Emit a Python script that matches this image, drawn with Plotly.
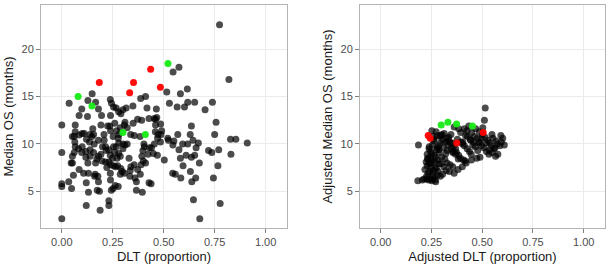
import plotly.graph_objects as go

# ---------------- Left panel data ----------------
dlt_black = [0.774,0.82,0.575,0.546,0.515,0.528,0.582,0.616,0.618,0.652,0.566,0.602,0.703,0.739,0.757,0.636,0.569,0.63,0.644,0.618,
             0.593,0.575,0.67,0.659,0.72,0.736,0.75,0.77,0.828,0.854,0.91,0.83,0.582,0.595,0.636,0.652,0.675,0.766,0.744,0.584,
             0.544,0.557,0.638,0.657,0.646,0.677,0.777,0.631,
             0.411,0.387,0.418,0.464,0.454,0.46,0.466,0.428,0.485,0.392,0.459,0.472,0.487,0.484,0.523,0.454,0.503,0.449,0.469,0.423,
             0.403,0.384,0.405,0.393,0.389,0.411,0.385,0.372,0.339,0.428,0.438,0.395,0.366,0.366,0.359,0.336,0.334,0.349,0.316,0.29,
             0.30,0.267,0.238,0.244,0.254,0.279,0.287,0.307,0.321,0.28,0.338,0.356,0.321,0.30,0.30,0.267,0.279,0.252,0.239,0.236,
             0.225,0.239,0.195,0.192,0.207,0.156,0.152,0.138,0.136,0.121,0.11,0.10,0.085,0.066,0.061,0.052,0.064,0.066,0.061,0.052,
             0.052,0.046,0.057,0.048,0.034,0.0,0.0,0.0,0.0,0.0,0.036,0.098,0.085,0.066,0.128,0.149,0.166,0.126,0.12,0.131,
             0.12,0.085,0.107,0.131,0.128,0.118,0.139,0.118,0.139,0.10,0.082,0.098,0.148,0.159,0.156,0.166,0.172,0.18,0.192,0.2,
             0.215,0.218,0.198,0.215,0.164,0.177,0.161,0.18,0.174,0.185,0.188,0.231,0.231,0.243,0.252,0.262,0.277,0.239,0.238,0.254,
             0.264,0.274,0.239,0.231,0.249,0.238,0.259,0.279,0.287,0.271,0.29,0.297,0.287,0.307,0.221,0.231,0.254,0.277,0.269,0.18,
             0.208,0.18,0.372,0.398,0.35,0.31,0.43,0.46,0.49,0.52,0.545,0.61,0.55,0.47,0.44,0.4,0.355,0.33,0.31,0.26]
os_black = [22.6,16.8,18.1,17.6,15.5,14.3,15.3,15.8,14.4,14.4,13.9,13.9,13.6,14.4,12.3,11.9,11.0,11.0,10.4,10.0,
            10.0,9.4,10.1,9.6,9.3,9.1,11.0,9.4,10.5,10.5,10.1,8.9,8.5,7.7,8.6,8.8,8.0,7.7,6.4,6.4,
            6.9,6.8,6.0,6.4,4.1,2.1,3.7,7.1,
            15.0,14.8,13.8,13.7,12.7,12.6,12.8,12.7,12.1,12.5,11.3,11.0,11.0,10.2,10.4,10.0,8.3,9.0,8.8,8.9,
            10.0,10.8,9.7,8.7,7.8,8.0,6.8,7.3,7.6,5.9,5.8,4.9,5.1,6.0,6.4,7.2,6.6,14.0,13.8,13.2,
            13.6,13.8,14.7,14.3,13.9,13.4,11.7,12.0,11.7,11.0,11.0,10.9,10.0,10.0,9.5,9.7,10.1,10.8,11.4,11.9,
            11.9,13.0,13.0,12.0,11.0,11.0,11.6,11.0,10.2,10.5,11.1,11.1,10.95,11.3,10.8,10.8,10.2,9.7,9.1,8.7,
            8.0,8.0,6.7,5.3,6.0,5.8,5.5,12.0,9.1,2.1,14.3,13.7,13.0,12.0,14.6,15.3,14.4,12.9,3.5,4.9,
            5.9,7.3,6.9,6.9,8.0,8.6,8.7,9.2,9.4,9.7,9.5,9.1,10.8,10.0,9.1,8.0,8.4,8.7,8.9,9.7,
            9.7,9.3,8.2,8.1,6.8,6.6,6.6,6.0,5.1,5.0,3.0,4.0,3.5,5.1,5.3,5.6,5.5,6.2,6.9,7.7,
            7.6,7.7,7.8,8.1,8.5,8.8,9.1,9.0,8.7,8.5,7.4,7.1,6.8,6.9,7.5,9.4,9.7,10.6,11.4,13.7,
            10.4,10.4,12.6,9.3,12.2,9.9,9.6,12.0,11.4,10.6,9.9,8.8,10.3,10.6,9.6,8.2,7.8,8.5,12.3,12.2]

dlt_red = [0.184,0.352,0.333,0.436,0.484]
os_red = [16.5,16.5,15.4,17.9,16.0]
dlt_green = [0.080,0.148,0.300,0.410,0.521]
os_green = [15.0,14.0,11.2,11.0,18.5]

# ---------------- Right panel data ----------------
adj_dlt_black = [0.183,0.205,0.214,0.228,0.236,0.247,0.252,0.268,0.271,0.226,0.233,0.241,0.256,0.262,0.279,0.294,0.305,0.218,0.229,0.238,
                 0.249,0.258,0.274,0.283,0.224,0.231,0.243,0.252,0.266,0.281,0.297,0.311,0.322,0.338,0.229,0.246,0.251,0.263,0.276,0.288,
                 0.301,0.316,0.327,0.342,0.355,0.239,0.255,0.262,0.277,0.285,0.293,0.306,0.318,0.331,0.347,0.356,0.368,0.382,0.258,0.279,
                 0.292,0.302,0.326,0.336,0.344,0.358,0.369,0.373,0.384,0.393,0.408,0.416,0.252,0.313,0.362,0.384,0.378,0.396,0.403,0.412,
                 0.426,0.437,0.446,0.394,0.418,0.427,0.441,0.457,0.466,0.478,0.489,0.425,0.448,0.462,0.476,0.484,0.497,0.508,0.521,0.533,
                 0.468,0.486,0.502,0.514,0.527,0.536,0.546,0.558,0.566,0.577,0.553,0.568,0.575,0.587,0.594,0.601,0.609,0.592,0.548,0.515,
                 0.511,0.503,0.186,0.232,0.273,0.335,0.352,0.346,0.405,0.443,0.495,0.519,0.434,0.412,0.309,0.287,0.269,0.248,0.362,0.381,
                 0.402,0.421,0.447,0.473,0.238,0.262,0.296,0.321,0.268,0.287,0.356,0.328,0.454,0.487,0.535,0.548,0.563]
adj_os_black = [6.1,6.2,6.3,6.3,6.2,6.3,6.1,6.2,6.0,6.6,6.9,7.1,6.8,6.5,6.7,6.6,6.8,7.3,7.7,7.9,
                7.5,7.2,7.4,7.1,8.1,8.4,8.6,8.2,8.1,8.3,7.9,7.6,7.2,7.1,8.9,9.2,9.0,8.8,9.4,9.1,
                8.6,8.4,8.0,7.8,7.6,9.7,9.9,10.3,9.6,9.8,10.1,10.4,10.2,9.9,9.5,9.1,8.9,8.4,10.8,10.9,
                10.8,11.0,10.6,10.3,10.1,9.7,9.5,9.1,8.8,8.5,8.3,8.2,11.4,11.1,11.8,11.6,10.5,10.2,10.0,9.8,
                9.5,9.2,8.9,11.2,10.9,10.8,10.5,10.2,9.7,9.3,8.6,11.4,11.2,10.8,10.6,10.1,9.8,9.6,9.2,8.9,
                11.6,11.3,11.0,10.7,10.4,10.1,9.8,9.5,8.7,8.9,10.6,10.3,10.0,9.8,10.2,10.6,9.9,10.9,11.0,13.8,
                12.5,11.7,9.9,8.5,11.3,10.7,10.1,11.0,10.2,10.4,10.6,10.1,11.9,11.6,9.6,9.4,8.6,8.0,6.9,7.3,
                7.6,8.0,8.3,8.5,9.5,10.5,10.9,9.0,7.5,7.9,9.2,9.3,9.9,10.2,9.4,9.1,9.6]

adj_dlt_red = [0.234,0.244,0.375,0.505]
adj_os_red = [10.9,10.6,10.1,11.2]
adj_dlt_green = [0.298,0.331,0.374,0.452]
adj_os_green = [12.0,12.3,12.1,11.9]

x_ticks = [0.0, 0.25, 0.5, 0.75, 1.0]
x_tick_text = ["0.00", "0.25", "0.50", "0.75", "1.00"]
y_ticks = [5, 10, 15, 20]

BLACK = "rgba(0,0,0,0.7)"
RED = "rgba(255,0,0,0.95)"
GREEN = "rgba(20,235,20,0.95)"
MS = 7

fig = go.Figure()

def add(x, y, color, xa, ya):
    fig.add_trace(go.Scatter(x=x, y=y, mode="markers", xaxis=xa, yaxis=ya,
                             marker=dict(color=color, size=MS, line=dict(width=0)),
                             showlegend=False, hoverinfo="skip"))

add(dlt_black, os_black, BLACK, "x", "y")
add(dlt_red, os_red, RED, "x", "y")
add(dlt_green, os_green, GREEN, "x", "y")
add(adj_dlt_black, adj_os_black, BLACK, "x2", "y2")
add(adj_dlt_red, adj_os_red, RED, "x2", "y2")
add(adj_dlt_green, adj_os_green, GREEN, "x2", "y2")

W, H = 606, 272
font = "Liberation Sans, Arial, Helvetica, sans-serif"

common_x = dict(range=[-0.102, 1.105], tickvals=x_ticks, ticktext=x_tick_text,
                showgrid=True, gridcolor="#ebebeb", gridwidth=1, zeroline=False,
                showline=True, mirror=True, linecolor="#b3b3b3", linewidth=1,
                ticks="outside", ticklen=4, tickcolor="#7f7f7f", tickwidth=1,
                tickfont=dict(size=11, color="#4d4d4d", family=font),
                title_font=dict(size=13, color="#1a1a1a", family=font),
                title_standoff=4, automargin=False)
common_y = dict(range=[1.12, 24.68], tickvals=y_ticks,
                showgrid=True, gridcolor="#ebebeb", gridwidth=1, zeroline=False,
                showline=True, mirror=True, linecolor="#b3b3b3", linewidth=1,
                ticks="outside", ticklen=4, tickcolor="#7f7f7f", tickwidth=1,
                tickfont=dict(size=11, color="#4d4d4d", family=font),
                title_font=dict(size=13, color="#1a1a1a", family=font),
                title_standoff=4, automargin=False)

fig.update_layout(
    width=W, height=H,
    margin=dict(l=0, r=0, t=0, b=0),
    paper_bgcolor="white", plot_bgcolor="white",
    xaxis=dict(domain=[41/W, 287/W], anchor="y", title_text="DLT (proportion)", **common_x),
    yaxis=dict(domain=[1-228/H, 1-5/H], anchor="x", title_text="Median OS (months)", **common_y),
    xaxis2=dict(domain=[360/W, 605/W], anchor="y2", title_text="Adjusted DLT (proportion)", **common_x),
    yaxis2=dict(domain=[1-228/H, 1-5/H], anchor="x2", title_text="Adjusted Median OS (months)", **common_y),
)

fig.write_html("out.html")
